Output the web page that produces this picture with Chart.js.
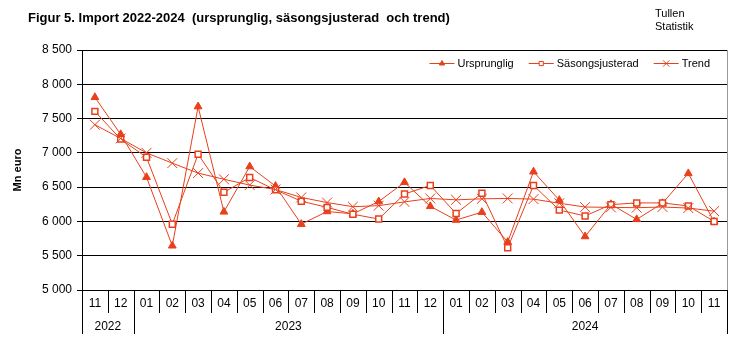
<!DOCTYPE html>
<html>
<head>
<meta charset="utf-8">
<script src="https://cdn.jsdelivr.net/npm/chart.js@4/dist/chart.umd.min.js"></script>
<style>
	body { margin: 0; background: #fff; }
	#wrap { position: relative; width: 756px; height: 340px; }
	#title { position: absolute; left: 28px; top: 10px; font: bold 13px 'Liberation Sans Narrow', 'Arial Narrow', sans-serif; white-space: pre; color: #000; }
	#source { position: absolute; left: 655px; top: 7px; font: 11px 'Liberation Sans Narrow', 'Arial Narrow', sans-serif; line-height: 13px; color: #000; }
	canvas { position: absolute; left: 0; top: 0; }
</style>
</head>
<body>
<div id="wrap">
	<canvas id="myChart" width="756" height="340"></canvas>
	<div id="title">Figur 5. Import 2022-2024  (ursprunglig, säsongsjusterad  och trend)</div>
	<div id="source">Tullen<br>Statistik</div>
</div>
<script>
const months = ['11', '12', '01', '02', '03', '04', '05', '06', '07', '08', '09', '10', '11', '12',
                '01', '02', '03', '04', '05', '06', '07', '08', '09', '10', '11'];
const yearLabels = ['2022', '2023', '2024'];
const yearSpan = [2, 12, 11];

const ursprunglig = [7810, 7270, 6645, 5645, 7675, 6140, 6800, 6515, 5960, 6145, 6110, 6290, 6570,
                     6220, 6020, 6135, 5700, 6725, 6310, 5780, 6250, 6030, 6265, 6700, 5995];
const sasongsjusterad = [7605, 7200, 6935, 5960, 6980, 6425, 6640, 6460, 6295, 6205, 6105, 6035, 6400,
                         6525, 6115, 6410, 5615, 6525, 6165, 6080, 6245, 6270, 6270, 6225, 6000];
const trend = [7410, 7210, 7000, 6850, 6705, 6615, 6530, 6465, 6350, 6275, 6215, 6230, 6285,
               6335, 6315, 6330, 6335, 6325, 6265, 6210, 6205, 6200, 6210, 6195, 6150];

const seriesColor = '#e8401c';
const textFont = '"Liberation Sans", Arial, sans-serif';

Chart.defaults.font.family = textFont;
Chart.defaults.color = '#000';

const legendItems = [
	{ text: 'Ursprunglig', style: 'triangle', radius: 3, fill: seriesColor },
	{ text: 'Säsongsjusterad', style: 'rect', radius: 3, fill: '#fff' },
	{ text: 'Trend', style: 'crossRot', radius: 4.5, fill: seriesColor }
];

function fmt(v) {
	return String(v).replace(/\B(?=(\d{3})+(?!\d))/g, ' ');
}

// draws the two level month/year axis, the frame, y title and the legend
const axisPlugin = {
	id: 'axisPlugin',
	afterDraw(chart) {
		const ctx = chart.ctx;
		const a = chart.chartArea;
		const x = chart.scales.x;
		ctx.save();
		ctx.strokeStyle = '#000';
		ctx.fillStyle = '#000';
		ctx.lineWidth = 1;

		// separators
		const yearEnds = [0];
		let acc = 0;
		yearSpan.forEach(n => { acc += n; yearEnds.push(acc); });
		for (let i = 0; i <= months.length; i++) {
			const bx = Math.round(x.getPixelForValue(i - 0.5)) + 0.5;
			const len = yearEnds.includes(i) ? 44 : 23;
			ctx.beginPath();
			ctx.moveTo(bx, a.bottom);
			ctx.lineTo(bx, a.bottom + len);
			ctx.stroke();
		}

		// month labels
		ctx.font = '12px ' + textFont;
		ctx.textAlign = 'center';
		ctx.textBaseline = 'middle';
		months.forEach((m, i) => {
			ctx.fillText(m, x.getPixelForValue(i), a.bottom + 14);
		});

		// year labels
		let start = 0;
		yearLabels.forEach((y, k) => {
			const c = (x.getPixelForValue(start - 0.5) + x.getPixelForValue(start + yearSpan[k] - 0.5)) / 2;
			ctx.fillText(y, c, a.bottom + 37);
			start += yearSpan[k];
		});

		// right border
		ctx.strokeStyle = '#999';
		ctx.beginPath();
		const rx = Math.round(a.right) + 0.5;
		ctx.moveTo(rx, a.top);
		ctx.lineTo(rx, a.bottom);
		ctx.stroke();

		// y axis title
		ctx.save();
		ctx.translate(18, (a.top + a.bottom) / 2);
		ctx.rotate(-Math.PI / 2);
		ctx.font = 'bold 11px ' + textFont;
		ctx.fillText('Mn euro', 0, 0);
		ctx.restore();

		// legend
		ctx.font = '11px ' + textFont;
		ctx.textAlign = 'left';
		let cursor = a.right - 17;
		const ly = a.top + 13;
		for (let k = legendItems.length - 1; k >= 0; k--) {
			const it = legendItems[k];
			const tw = ctx.measureText(it.text).width;
			const tx = cursor - tw;
			const l1 = tx - 28, l2 = tx - 3;
			ctx.strokeStyle = seriesColor;
			ctx.beginPath();
			ctx.moveTo(l1, ly + 0.5);
			ctx.lineTo(l2, ly + 0.5);
			ctx.stroke();
			ctx.fillStyle = it.fill;
			Chart.helpers.drawPoint(ctx, { pointStyle: it.style, radius: it.radius, rotation: 0, borderWidth: 1 }, (l1 + l2) / 2, ly + 0.5);
			ctx.fillStyle = '#000';
			ctx.fillText(it.text, tx, ly + 1);
			cursor = l1 - 15;
		}
		ctx.restore();
	}
};

const ctx = document.getElementById('myChart').getContext('2d');
const myChart = new Chart(ctx, {
	type: 'line',
	data: {
		labels: months,
		datasets: [{
			label: 'Trend',
			data: trend,
			borderColor: seriesColor,
			backgroundColor: seriesColor,
			borderWidth: 1,
			pointStyle: 'crossRot',
			pointRadius: 7,
			pointBorderWidth: 1
		}, {
			label: 'Säsongsjusterad',
			data: sasongsjusterad,
			borderColor: seriesColor,
			backgroundColor: '#fff',
			borderWidth: 1,
			pointStyle: 'rect',
			pointRadius: 4.2,
			pointBorderWidth: 1.5
		}, {
			label: 'Ursprunglig',
			data: ursprunglig,
			borderColor: seriesColor,
			backgroundColor: seriesColor,
			borderWidth: 1,
			pointStyle: 'triangle',
			pointRadius: 4.5,
			pointBorderWidth: 1
		}]
	},
	options: {
		responsive: false,
		animation: false,
		devicePixelRatio: 1,
		layout: { padding: { left: 0, top: 50, right: 29, bottom: 0 } },
		plugins: {
			legend: { display: false },
			tooltip: { enabled: false }
		},
		scales: {
			x: {
				type: 'category',
				offset: true,
				grid: { display: false },
				ticks: { display: false },
				border: { display: false },
				afterFit: (scale) => { scale.height = 50; }
			},
			y: {
				min: 5000,
				max: 8500,
				ticks: {
					stepSize: 500,
					padding: 5,
					font: { size: 12 },
					callback: (v) => fmt(v)
				},
				grid: { color: '#000', lineWidth: 1, tickLength: 5 },
				border: { color: '#000' },
				afterFit: (scale) => { scale.width = 82; }
			}
		}
	},
	plugins: [axisPlugin]
});
</script>
</body>
</html>
